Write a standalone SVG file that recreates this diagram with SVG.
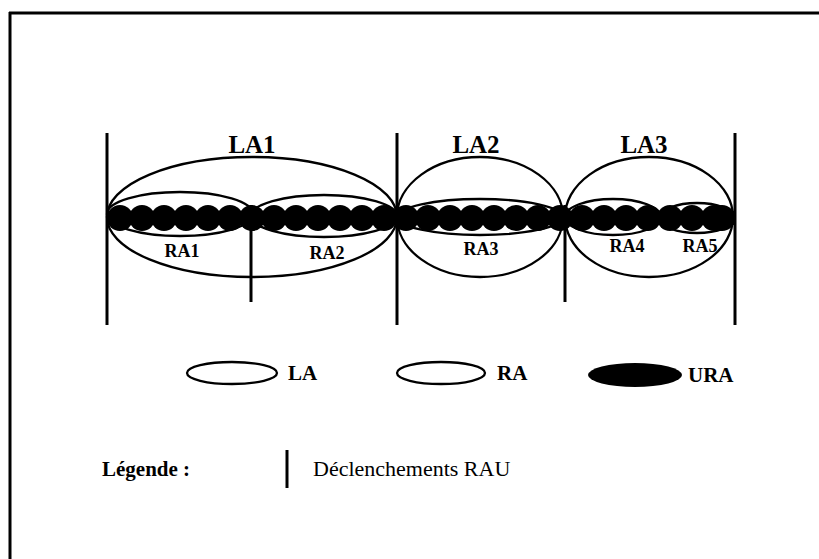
<svg xmlns="http://www.w3.org/2000/svg" width="819" height="559" viewBox="0 0 819 559">
  <style>
    .frame { stroke: #000; stroke-width: 3; fill: none; }
    .rau { stroke: #000; stroke-width: 3; fill: none; }
    .la { stroke: #000; stroke-width: 2.3; fill: none; }
    .ra { stroke: #000; stroke-width: 2.3; fill: none; }
    .ura { fill: #000; }
    .lbl-la { font-family: "Liberation Serif", "Times New Roman", serif; font-weight: bold; font-size: 25px; fill: #000; text-anchor: middle; }
    .lbl-ra { font-family: "Liberation Serif", "Times New Roman", serif; font-weight: bold; font-size: 18px; fill: #000; text-anchor: middle; }
    .lbl-key { font-family: "Liberation Serif", "Times New Roman", serif; font-weight: bold; font-size: 21px; fill: #000; }
    .lbl-txt { font-family: "Liberation Serif", "Times New Roman", serif; font-size: 22px; fill: #000; }
  </style>
  <defs>
    <circle id="cell" r="13" cy="0" cx="0"/>
  </defs>
  <rect width="819" height="559" fill="#fff"/>

  <!-- page frame -->
  <g id="frame">
    <line class="frame" x1="9" y1="13" x2="819" y2="13"/>
    <line class="frame" x1="10" y1="12" x2="10" y2="559"/>
  </g>

  <!-- URA chain -->
  <g id="ura-chain" class="ura">
    <rect x="107" y="211" width="628" height="14"/>
    <use href="#cell" x="120" y="218"/>
    <use href="#cell" x="142" y="218"/>
    <use href="#cell" x="164" y="218"/>
    <use href="#cell" x="186" y="218"/>
    <use href="#cell" x="208" y="218"/>
    <use href="#cell" x="230" y="218"/>
    <use href="#cell" x="252" y="218"/>
    <use href="#cell" x="274" y="218"/>
    <use href="#cell" x="296" y="218"/>
    <use href="#cell" x="318" y="218"/>
    <use href="#cell" x="340" y="218"/>
    <use href="#cell" x="362" y="218"/>
    <use href="#cell" x="384" y="218"/>
    <use href="#cell" x="406" y="218"/>
    <use href="#cell" x="428" y="218"/>
    <use href="#cell" x="450" y="218"/>
    <use href="#cell" x="472" y="218"/>
    <use href="#cell" x="494" y="218"/>
    <use href="#cell" x="516" y="218"/>
    <use href="#cell" x="538" y="218"/>
    <use href="#cell" x="560" y="218"/>
    <use href="#cell" x="582" y="218"/>
    <use href="#cell" x="604" y="218"/>
    <use href="#cell" x="626" y="218"/>
    <use href="#cell" x="648" y="218"/>
    <use href="#cell" x="670" y="218"/>
    <use href="#cell" x="692" y="218"/>
    <use href="#cell" x="714" y="218"/>
    <use href="#cell" x="722" y="218"/>
  </g>

  <!-- location areas -->
  <g id="la1">
    <ellipse class="la" cx="252" cy="217" rx="145" ry="60"/>
    <text class="lbl-la" x="252" y="153">LA1</text>
  </g>
  <g id="la2">
    <ellipse class="la" cx="480" cy="217" rx="83" ry="60"/>
    <text class="lbl-la" x="476" y="153">LA2</text>
  </g>
  <g id="la3">
    <ellipse class="la" cx="649" cy="217" rx="84" ry="60"/>
    <text class="lbl-la" x="644" y="153">LA3</text>
  </g>

  <!-- routing areas -->
  <g id="ra1">
    <ellipse class="ra" cx="180" cy="214" rx="73" ry="22"/>
    <text class="lbl-ra" x="182" y="257">RA1</text>
  </g>
  <g id="ra2">
    <ellipse class="ra" cx="324" cy="216" rx="73" ry="21"/>
    <text class="lbl-ra" x="327" y="259">RA2</text>
  </g>
  <g id="ra3">
    <ellipse class="ra" cx="480" cy="217" rx="83" ry="18"/>
    <text class="lbl-ra" x="481" y="255">RA3</text>
  </g>
  <g id="ra4">
    <ellipse class="ra" cx="613" cy="217" rx="48" ry="18"/>
    <text class="lbl-ra" x="627" y="252">RA4</text>
  </g>
  <g id="ra5">
    <ellipse class="ra" cx="697" cy="218" rx="37" ry="15"/>
    <text class="lbl-ra" x="700" y="252">RA5</text>
  </g>

  <!-- RAU trigger boundaries -->
  <g id="rau-lines">
    <line class="rau" x1="107" y1="133" x2="107" y2="325"/>
    <line class="rau" x1="397" y1="133" x2="397" y2="325"/>
    <line class="rau" x1="735" y1="133" x2="735" y2="325"/>
    <line class="rau" x1="251" y1="205" x2="251" y2="302"/>
    <line class="rau" x1="565" y1="205" x2="565" y2="302"/>
  </g>

  <!-- symbol key -->
  <g id="key-la">
    <ellipse class="la" cx="232" cy="373" rx="45" ry="11"/>
    <text class="lbl-key" x="288" y="380">LA</text>
  </g>
  <g id="key-ra">
    <ellipse class="ra" cx="441" cy="373" rx="44" ry="11"/>
    <text class="lbl-key" x="497" y="380">RA</text>
  </g>
  <g id="key-ura">
    <ellipse class="ura" cx="635" cy="375" rx="47" ry="12"/>
    <text class="lbl-key" x="688" y="382">URA</text>
  </g>

  <!-- legend -->
  <g id="legend">
    <text class="lbl-key" x="102" y="476">Légende :</text>
    <line class="rau" x1="287" y1="450" x2="287" y2="488"/>
    <text class="lbl-txt" x="313" y="476">Déclenchements RAU</text>
  </g>
</svg>
